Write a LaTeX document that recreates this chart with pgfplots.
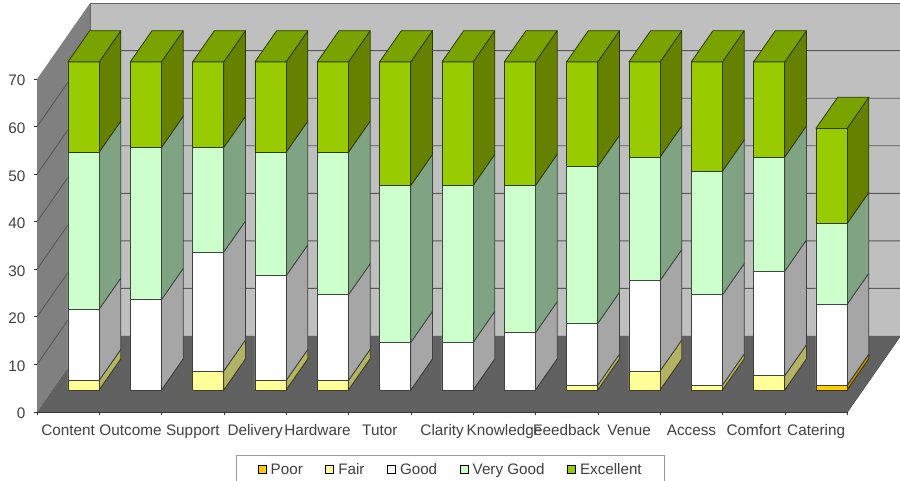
\documentclass[border=0pt]{standalone}
\usepackage{pgfplots}
\pgfplotsset{compat=1.18}
\usepackage{fontspec}
\setmainfont{Liberation Sans}
\definecolor{txt}{HTML}{404040}
\definecolor{eF}{HTML}{99CC00}\definecolor{eS}{HTML}{668000}\definecolor{eT}{HTML}{7AA300}\definecolor{eE}{HTML}{2C3C00}
\definecolor{vF}{HTML}{CCFFCC}\definecolor{vS}{HTML}{80A383}\definecolor{vE}{HTML}{3A4A3A}
\definecolor{gF}{HTML}{FFFFFF}\definecolor{gS}{HTML}{A6A6A6}\definecolor{gE}{HTML}{404040}
\definecolor{fF}{HTML}{FFFF99}\definecolor{fS}{HTML}{B3B366}\definecolor{fE}{HTML}{404020}
\definecolor{pF}{HTML}{FFCC00}\definecolor{pS}{HTML}{B38F00}\definecolor{pE}{HTML}{403000}
\newcommand\seg[7]{%
 \addplot3[forget plot,fill=#6S,draw=#7,line width=0.8pt,line join=round] coordinates {(#2,0.29,#4)(#2,0.70,#4)(#2,0.70,#5)(#2,0.29,#5)(#2,0.29,#4)};
 \addplot3[forget plot,fill=#6F,draw=#7,line width=0.8pt,line join=round] coordinates {(#1,0.29,#4)(#2,0.29,#4)(#2,0.29,#5)(#1,0.29,#5)(#1,0.29,#4)};
}
% xl, xr, cumulative tops of Poor, Fair, Good, Very Good, Excellent
\newcommand\stack[7]{%
 \seg{#1}{#2}{}{0}{#3}{p}{pE}
 \seg{#1}{#2}{}{#3}{#4}{f}{fE}
 \seg{#1}{#2}{}{#4}{#5}{g}{gE}
 \seg{#1}{#2}{}{#5}{#6}{v}{vE}
 \seg{#1}{#2}{}{#6}{#7}{e}{eE}
 \addplot3[forget plot,fill=eT,draw=eE,line width=0.8pt,line join=round] coordinates {(#1,0.29,#7)(#2,0.29,#7)(#2,0.70,#7)(#1,0.70,#7)(#1,0.29,#7)};
}
\begin{document}
\begin{tikzpicture}
\path[use as bounding box] (0pt,0pt) rectangle (900pt,481pt);
\begin{axis}[
 at={(37pt,69pt)},anchor=origin,
 x={(62.33pt,0pt)},y={(53pt,76pt)},z={(0pt,4.755pt)},
 xmin=0,xmax=13,ymin=0,ymax=1,zmin=0,zmax=70,
 axis lines=left,axis line style={-,draw=black!80,line width=0.9pt},
 clip=false,no markers,
 ytick=\empty,
 ztick={0,10,20,30,40,50,60,70},
 xtick={0.5,1.5,2.5,3.5,4.5,5.5,6.5,7.5,8.5,9.5,10.5,11.5,12.5},
 xticklabels={Content,Outcome,Support,Delivery,Hardware,Tutor,Clarity,Knowledge,Feedback,Venue,Access,Comfort,Catering},
 major tick length=0pt,
 ticklabel style={font=\fontsize{15.3}{18}\selectfont,text=txt},
 xticklabel style={anchor=north,text height=11pt,text depth=3pt,yshift=-9pt},
 zticklabel style={anchor=east,xshift=-8pt,yshift=-1.5pt},
 /pgf/number format/assume math mode=true,
 legend columns=5,
 legend style={at={(0.2309,-0.1054)},anchor=north west,draw=black!40,line width=0.8pt,
   font=\fontsize{15.2}{18}\selectfont,text=txt,inner xsep=21pt,inner ysep=6pt,
   /tikz/every even column/.append style={column sep=20.5pt},
   /tikz/every odd column/.append style={column sep=2pt}},
]
% walls
\addplot3[forget plot,fill=black!50,draw=none] coordinates {(0,0,0)(0,1,0)(0,1,70)(0,0,70)(0,0,0)};
\addplot3[forget plot,fill=black!25,draw=black!60,line width=0.8pt] coordinates {(0,1,0)(13,1,0)(13,1,70)(0,1,70)(0,1,0)};
\addplot3[forget plot,fill=black!62,draw=none] coordinates {(0,0,0)(13,0,0)(13,1,0)(0,1,0)(0,0,0)};
% grid lines
\addplot3[forget plot,draw=black!65,line width=0.9pt] coordinates {(0,0,10)(0,1,10)(13,1,10)};
\addplot3[forget plot,draw=black!65,line width=0.9pt] coordinates {(0,0,20)(0,1,20)(13,1,20)};
\addplot3[forget plot,draw=black!65,line width=0.9pt] coordinates {(0,0,30)(0,1,30)(13,1,30)};
\addplot3[forget plot,draw=black!65,line width=0.9pt] coordinates {(0,0,40)(0,1,40)(13,1,40)};
\addplot3[forget plot,draw=black!65,line width=0.9pt] coordinates {(0,0,50)(0,1,50)(13,1,50)};
\addplot3[forget plot,draw=black!65,line width=0.9pt] coordinates {(0,0,60)(0,1,60)(13,1,60)};
% tick marks
\addplot3[forget plot,draw=black!80,line width=0.8pt] coordinates {(-0.05,0,0)(0,0,0)};
\addplot3[forget plot,draw=black!80,line width=0.8pt] coordinates {(-0.05,0,10)(0,0,10)};
\addplot3[forget plot,draw=black!80,line width=0.8pt] coordinates {(-0.05,0,20)(0,0,20)};
\addplot3[forget plot,draw=black!80,line width=0.8pt] coordinates {(-0.05,0,30)(0,0,30)};
\addplot3[forget plot,draw=black!80,line width=0.8pt] coordinates {(-0.05,0,40)(0,0,40)};
\addplot3[forget plot,draw=black!80,line width=0.8pt] coordinates {(-0.05,0,50)(0,0,50)};
\addplot3[forget plot,draw=black!80,line width=0.8pt] coordinates {(-0.05,0,60)(0,0,60)};
\addplot3[forget plot,draw=black!80,line width=0.8pt] coordinates {(-0.05,0,70)(0,0,70)};
\pgfplotsinvokeforeach{0,1,...,13}{\addplot3[forget plot,draw=black!80,line width=0.8pt] coordinates {(#1,0,0)(#1,0,-0.7)};}
% bars
\stack{0.25}{0.75}{0}{2}{17}{50}{69}
\stack{1.25}{1.75}{0}{0}{19}{51}{69}
\stack{2.25}{2.75}{0}{4}{29}{51}{69}
\stack{3.25}{3.75}{0}{2}{24}{50}{69}
\stack{4.25}{4.75}{0}{2}{20}{50}{69}
\stack{5.25}{5.75}{0}{0}{10}{43}{69}
\stack{6.25}{6.75}{0}{0}{10}{43}{69}
\stack{7.25}{7.75}{0}{0}{12}{43}{69}
\stack{8.25}{8.75}{0}{1}{14}{47}{69}
\stack{9.25}{9.75}{0}{4}{23}{49}{69}
\stack{10.25}{10.75}{0}{1}{20}{46}{69}
\stack{11.25}{11.75}{0}{3}{25}{49}{69}
\stack{12.25}{12.75}{1}{1}{18}{35}{55}
% legend
\addlegendimage{legend image code/.code={\draw[draw=black,line width=1pt,fill=pF] (0pt,-4pt) rectangle (8pt,4pt);}}
\addlegendentry{Poor}
\addlegendimage{legend image code/.code={\draw[draw=black,line width=1pt,fill=fF] (0pt,-4pt) rectangle (8pt,4pt);}}
\addlegendentry{Fair}
\addlegendimage{legend image code/.code={\draw[draw=black,line width=1pt,fill=gF] (0pt,-4pt) rectangle (8pt,4pt);}}
\addlegendentry{Good}
\addlegendimage{legend image code/.code={\draw[draw=black,line width=1pt,fill=vF] (0pt,-4pt) rectangle (8pt,4pt);}}
\addlegendentry{Very Good}
\addlegendimage{legend image code/.code={\draw[draw=black,line width=1pt,fill=eF] (0pt,-4pt) rectangle (8pt,4pt);}}
\addlegendentry{Excellent}
\end{axis}
\end{tikzpicture}
\end{document}
